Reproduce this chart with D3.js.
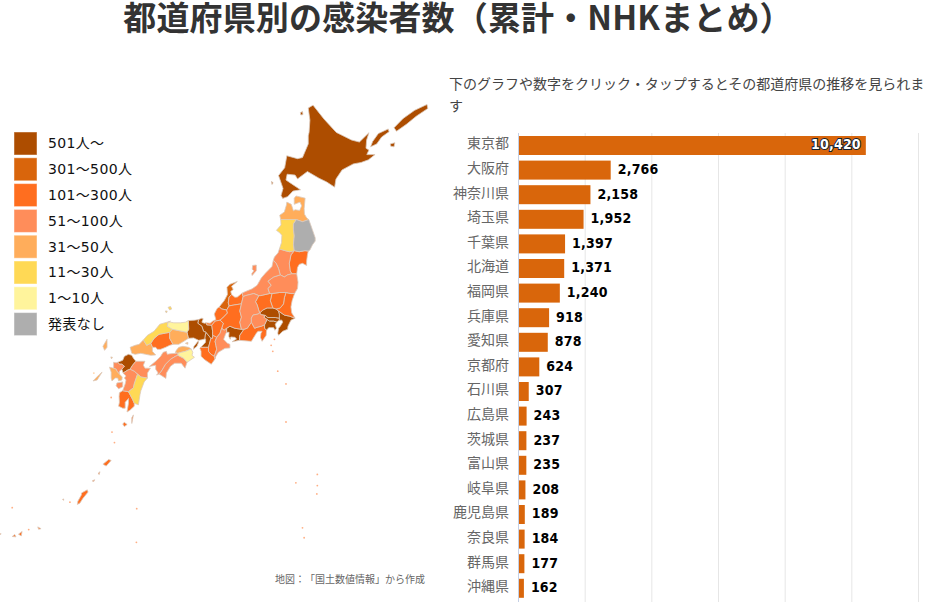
<!DOCTYPE html>
<meta charset="utf-8">
<head>
    <script src="https://cdnjs.cloudflare.com/ajax/libs/d3/7.8.5/d3.min.js"></script>
    <style>
        html, body { margin: 0; background: #fff; overflow: hidden; }
        text { font-family: "Noto Sans CJK JP", sans-serif; text-spacing-trim: space-all; }
    </style>
</head>
<body>
    <svg width=946 height=602></svg>
</body>
<script>
    let categories = ["東京都", "大阪府", "神奈川県", "埼玉県", "千葉県", "北海道", "福岡県", "兵庫県", "愛知県", "京都府",
        "石川県", "広島県", "茨城県", "富山県", "岐阜県", "鹿児島県", "奈良県", "群馬県", "沖縄県"];
    let values = [10420, 2766, 2158, 1952, 1397, 1371, 1240, 918, 878, 624, 307, 243, 237, 235, 208, 189, 184, 177, 162];
    let xTicks = [0, 2000, 4000, 6000, 8000, 10000, 12000];

    let legendLabels = ["501人～", "301～500人", "101～300人", "51～100人", "31～50人", "11～30人", "1～10人", "発表なし"];
    let legendColors = ["#ad4d00", "#d9650c", "#ff6e1f", "#ff8d5a", "#ffad5b", "#ffd955", "#fff49c", "#aeaeae"];

    // prefectures by legend class, same order as legendLabels
    let prefClasses = [
        ["北海道", "東京都", "神奈川県", "埼玉県", "千葉県", "愛知県", "大阪府", "京都府", "兵庫県", "福岡県"],
        ["石川県"],
        ["宮城県", "茨城県", "栃木県", "群馬県", "静岡県", "富山県", "福井県", "岐阜県", "滋賀県", "奈良県", "和歌山県", "広島県", "鹿児島県", "沖縄県"],
        ["山形県", "福島県", "新潟県", "長野県", "山梨県", "三重県", "愛媛県", "高知県", "佐賀県", "熊本県", "大分県"],
        ["青森県", "岡山県", "山口県", "香川県", "長崎県"],
        ["秋田県", "島根県", "宮崎県"],
        ["鳥取県", "徳島県"],
        ["岩手県"]
    ];

    // rough outlines, [lon, lat]
    let prefOutlines = {
        "北海道": [[[141.94,45.52],[142.6,44.93],[143.35,44.35],[144.27,44.02],[144.75,43.93],[145.33,44.34],[145.19,44.02],[145.15,43.66],[145.33,43.58],[145.2,43.38],[145.7,43.38],[145.3,43.15],[144.85,43.03],[144.38,42.97],[143.7,42.7],[143.33,42.29],[143.25,41.93],[142.77,42.16],[142.3,42.33],[141.6,42.63],[141.0,42.3],[140.85,42.47],[140.37,42.51],[140.3,42.25],[140.58,42.11],[141.18,41.81],[140.72,41.75],[140.4,41.5],[140.1,41.42],[140.0,41.55],[140.12,41.87],[139.85,42.45],[140.22,42.8],[140.35,43.33],[141.0,43.2],[141.3,43.25],[141.65,43.85],[141.65,44.2],[141.7,44.36],[141.75,44.88],[141.65,45.4]],
            [[145.43,43.72],[145.55,43.95],[145.9,44.3],[146.5,44.5],[146.55,44.38],[146.1,44.15],[145.8,43.85]],
            [[146.85,44.55],[147.4,44.95],[148.1,45.3],[148.85,45.55],[148.9,45.38],[148.2,45.05],[147.6,44.7],[147.0,44.4]],
            [[146.62,43.85],[146.9,43.9],[146.85,43.72],[146.65,43.75]],
            [[141.17,45.2],[141.3,45.25],[141.33,45.12],[141.2,45.1]],
            [[139.42,42.2],[139.52,42.12],[139.45,42.05]]],
        "青森県": [[[140.35,41.25],[140.62,41.15],[140.75,40.85],[140.85,40.9],[141.13,40.87],[141.25,41.08],[141.15,41.25],[140.8,41.15],[140.8,41.43],[140.91,41.53],[141.46,41.43],[141.4,40.95],[141.42,40.7],[141.55,40.53],[141.68,40.45],[141.3,40.35],[140.93,40.45],[140.5,40.45],[139.98,40.45],[139.92,40.65],[140.2,40.8],[140.33,41.13]]],
        "岩手県": [[[141.68,40.45],[141.8,40.2],[141.9,39.98],[142.07,39.6],[142.07,39.45],[141.9,39.27],[141.75,39.03],[141.65,38.98],[141.45,39.0],[141.1,38.95],[140.8,39.0],[140.75,39.3],[140.8,39.7],[140.75,40.0],[140.75,40.25],[140.93,40.45],[141.3,40.35]]],
        "秋田県": [[[139.98,40.45],[140.0,40.2],[139.72,39.95],[139.9,39.85],[140.05,39.72],[140.03,39.38],[139.9,39.08],[140.25,39.0],[140.5,38.95],[140.8,39.0],[140.75,39.3],[140.8,39.7],[140.75,40.0],[140.75,40.25],[140.93,40.45],[140.5,40.45]]],
        "山形県": [[[139.9,39.08],[139.82,38.9],[139.6,38.7],[139.53,38.55],[139.7,38.4],[139.85,38.15],[139.95,37.85],[140.2,37.75],[140.4,37.85],[140.65,37.9],[140.55,38.05],[140.5,38.4],[140.6,38.8],[140.8,39.0],[140.5,38.95],[140.25,39.0]]],
        "宮城県": [[[141.65,38.98],[141.6,38.8],[141.55,38.5],[141.55,38.3],[141.3,38.4],[141.1,38.35],[141.0,38.2],[140.95,37.9],[140.65,37.9],[140.55,38.05],[140.5,38.4],[140.6,38.8],[140.8,39.0],[141.1,38.95],[141.45,39.0]]],
        "福島県": [[[140.95,37.9],[141.03,37.5],[141.0,37.2],[140.82,36.95],[140.6,36.95],[140.3,37.0],[139.9,37.0],[139.45,36.95],[139.3,36.95],[139.2,37.2],[139.4,37.35],[139.2,37.55],[139.55,37.75],[139.95,37.85],[140.2,37.75],[140.4,37.85],[140.65,37.9]]],
        "新潟県": [[[139.53,38.55],[139.45,38.25],[139.05,37.93],[138.8,37.7],[138.55,37.35],[138.25,37.18],[137.85,37.05],[137.65,36.98],[137.7,36.8],[137.85,36.85],[138.35,36.95],[138.65,36.85],[138.75,36.85],[139.3,36.95],[139.2,37.2],[139.4,37.35],[139.2,37.55],[139.55,37.75],[139.95,37.85],[139.85,38.15],[139.7,38.4]],
            [[138.28,38.3],[138.5,38.32],[138.5,38.05],[138.25,37.82],[138.22,37.9],[138.35,38.05],[138.25,38.12]]],
        "茨城県": [[[140.82,36.95],[140.67,36.6],[140.6,36.3],[140.65,36.0],[140.85,35.75],[140.5,35.85],[140.2,35.9],[139.85,36.1],[139.7,36.2],[139.95,36.25],[140.15,36.45],[140.2,36.75],[140.3,37.0],[140.6,36.95]]],
        "栃木県": [[[140.3,37.0],[140.2,36.75],[140.15,36.45],[139.95,36.25],[139.7,36.2],[139.5,36.25],[139.35,36.6],[139.45,36.95],[139.9,37.0]]],
        "群馬県": [[[139.45,36.95],[139.3,36.95],[138.75,36.85],[138.65,36.85],[138.45,36.55],[138.55,36.4],[138.7,36.0],[138.9,36.15],[139.15,36.25],[139.5,36.25],[139.35,36.6]]],
        "埼玉県": [[[139.7,36.2],[139.5,36.25],[139.15,36.25],[138.9,36.15],[138.7,36.0],[138.8,35.92],[139.05,35.88],[139.2,35.78],[139.65,35.78],[139.9,35.75],[139.9,35.95],[139.85,36.1]]],
        "千葉県": [[[140.85,35.75],[140.5,35.85],[140.2,35.9],[139.85,36.1],[139.9,35.95],[139.9,35.65],[140.05,35.65],[140.1,35.55],[139.95,35.35],[139.85,35.25],[139.8,35.0],[139.85,34.9],[140.1,35.1],[140.4,35.2],[140.42,35.35],[140.6,35.65]]],
        "東京都": [[[139.05,35.88],[139.2,35.78],[139.65,35.78],[139.9,35.75],[139.9,35.65],[139.8,35.6],[139.75,35.55],[139.55,35.6],[139.3,35.6],[139.15,35.68],[138.95,35.8]]],
        "神奈川県": [[[139.75,35.55],[139.65,35.45],[139.72,35.25],[139.63,35.15],[139.55,35.28],[139.25,35.28],[139.12,35.15],[139.0,35.25],[139.0,35.42],[139.15,35.68],[139.3,35.6],[139.55,35.6]]],
        "山梨県": [[[138.8,35.92],[139.05,35.88],[138.95,35.8],[139.15,35.68],[139.0,35.42],[138.8,35.35],[138.55,35.3],[138.4,35.25],[138.2,35.55],[138.2,35.75],[138.3,35.9],[138.6,35.95],[138.7,36.0]]],
        "長野県": [[[137.85,36.85],[138.35,36.95],[138.65,36.85],[138.45,36.55],[138.55,36.4],[138.7,36.0],[138.6,35.95],[138.3,35.9],[138.2,35.75],[138.2,35.55],[137.95,35.25],[137.75,35.2],[137.6,35.2],[137.5,35.55],[137.6,35.8],[137.5,36.1],[137.6,36.45],[137.7,36.8]]],
        "富山県": [[[137.65,36.98],[137.35,36.78],[137.2,36.77],[137.0,36.9],[136.85,36.78],[136.8,36.5],[136.85,36.35],[137.2,36.4],[137.6,36.45],[137.7,36.8]]],
        "石川県": [[[137.0,36.9],[136.95,37.05],[137.1,37.15],[137.0,37.3],[137.35,37.53],[136.9,37.4],[136.72,37.25],[136.75,36.9],[136.55,36.6],[136.35,36.4],[136.25,36.3],[136.4,36.2],[136.7,36.15],[136.85,36.35],[136.8,36.5],[136.85,36.78]]],
        "福井県": [[[136.25,36.3],[136.12,36.22],[135.95,35.95],[136.05,35.68],[135.85,35.6],[135.7,35.5],[135.45,35.52],[135.5,35.42],[135.8,35.4],[136.0,35.6],[136.3,35.65],[136.45,35.75],[136.75,36.0],[136.7,36.15],[136.4,36.2]]],
        "岐阜県": [[[136.85,36.35],[137.2,36.4],[137.6,36.45],[137.5,36.1],[137.6,35.8],[137.5,35.55],[137.6,35.2],[137.2,35.25],[136.9,35.35],[136.7,35.25],[136.55,35.15],[136.4,35.25],[136.5,35.5],[136.3,35.65],[136.45,35.75],[136.75,36.0],[136.7,36.15]]],
        "愛知県": [[[136.7,35.25],[136.9,35.35],[137.2,35.25],[137.6,35.2],[137.75,35.2],[137.5,34.9],[137.48,34.65],[137.03,34.58],[137.3,34.72],[137.2,34.8],[136.95,34.82],[136.92,34.7],[136.83,34.85],[136.85,35.05],[136.7,35.05]]],
        "静岡県": [[[137.75,35.2],[137.95,35.25],[138.2,35.55],[138.4,35.25],[138.55,35.3],[138.8,35.35],[139.0,35.42],[139.0,35.25],[139.12,35.15],[139.1,34.9],[138.85,34.6],[138.75,34.8],[138.78,35.0],[138.85,35.1],[138.6,35.1],[138.5,35.0],[138.2,34.6],[137.48,34.65],[137.5,34.9]]],
        "三重県": [[[136.7,35.05],[136.63,34.95],[136.52,34.7],[136.75,34.5],[136.9,34.45],[136.9,34.27],[136.6,34.25],[136.2,34.05],[136.05,33.85],[136.0,33.72],[135.95,33.85],[136.1,34.2],[136.05,34.4],[136.0,34.6],[136.1,34.8],[136.3,35.0],[136.4,35.25],[136.55,35.15],[136.7,35.25]]],
        "滋賀県": [[[136.4,35.25],[136.5,35.5],[136.3,35.65],[136.0,35.6],[135.8,35.4],[135.85,35.1],[135.85,34.9],[136.1,34.8],[136.3,35.0]]],
        "京都府": [[[135.45,35.52],[135.35,35.5],[135.2,35.55],[135.28,35.72],[135.2,35.75],[135.0,35.68],[134.95,35.5],[135.2,35.35],[135.3,35.1],[135.45,35.05],[135.55,34.95],[135.65,34.85],[135.75,34.75],[135.85,34.75],[135.85,34.9],[135.85,35.1],[135.8,35.4],[135.5,35.42]]],
        "大阪府": [[[135.45,35.05],[135.55,34.95],[135.65,34.85],[135.75,34.75],[135.65,34.45],[135.6,34.3],[135.4,34.3],[135.13,34.3],[135.25,34.4],[135.42,34.55],[135.43,34.7],[135.38,34.72],[135.38,34.78],[135.4,34.9]]],
        "奈良県": [[[135.75,34.75],[135.85,34.75],[135.85,34.9],[136.1,34.8],[136.0,34.6],[136.05,34.4],[136.1,34.2],[135.95,33.85],[135.75,33.95],[135.6,34.1],[135.6,34.3],[135.65,34.45]]],
        "和歌山県": [[[135.13,34.3],[135.4,34.3],[135.6,34.3],[135.6,34.1],[135.75,33.95],[135.95,33.85],[136.0,33.72],[135.77,33.45],[135.37,33.68],[135.15,33.85],[135.15,34.1],[135.08,34.25]]],
        "兵庫県": [[[135.0,35.68],[134.75,35.65],[134.38,35.63],[134.4,35.2],[134.3,35.05],[134.38,34.75],[134.7,34.77],[135.0,34.65],[135.2,34.68],[135.38,34.72],[135.38,34.78],[135.4,34.9],[135.45,35.05],[135.3,35.1],[135.2,35.35],[134.95,35.5]],
            [[134.98,34.62],[135.0,34.55],[134.9,34.35],[134.68,34.2],[134.72,34.35]]],
        "鳥取県": [[[134.38,35.63],[134.2,35.55],[133.9,35.52],[133.5,35.52],[133.3,35.55],[133.15,35.55],[133.1,35.35],[133.4,35.2],[133.7,35.15],[134.3,35.05],[134.4,35.2]]],
        "岡山県": [[[134.3,35.05],[133.7,35.15],[133.4,35.2],[133.25,35.05],[133.25,34.75],[133.45,34.45],[133.8,34.45],[134.0,34.55],[134.2,34.65],[134.38,34.75]]],
        "広島県": [[[133.45,34.45],[133.25,34.75],[133.25,35.05],[132.6,34.95],[132.3,34.75],[132.1,34.5],[132.2,34.3],[132.4,34.3],[132.5,34.2],[132.7,34.2],[133.0,34.3],[133.25,34.4]]],
        "島根県": [[[133.15,35.55],[133.3,35.6],[132.65,35.45],[132.5,35.3],[132.3,35.1],[131.9,34.9],[131.65,34.67],[131.85,34.4],[132.1,34.5],[132.3,34.75],[132.6,34.95],[133.25,35.05],[133.4,35.2],[133.1,35.35]],
            [[133.15,36.28],[133.3,36.32],[133.37,36.2],[133.25,36.15]],
            [[132.98,36.1],[133.1,36.1],[133.05,36.0]]],
        "山口県": [[[131.65,34.67],[131.4,34.45],[131.15,34.4],[130.85,34.3],[130.95,34.0],[131.15,33.95],[131.5,34.0],[131.8,33.95],[132.1,33.9],[132.4,33.92],[132.2,34.1],[132.2,34.3],[132.1,34.5],[131.85,34.4]]],
        "香川県": [[[133.6,34.05],[133.65,34.15],[133.8,34.3],[134.05,34.35],[134.4,34.3],[134.55,34.22],[134.2,34.1],[133.95,34.05],[133.75,34.0]],
            [[134.2,34.5],[134.35,34.55],[134.35,34.45]]],
        "徳島県": [[[134.55,34.22],[134.65,34.05],[134.6,33.9],[134.75,33.8],[134.4,33.6],[134.3,33.55],[134.1,33.75],[133.75,33.9],[133.75,34.0],[133.95,34.05],[134.2,34.1]]],
        "愛媛県": [[[133.6,34.05],[133.65,34.0],[133.3,33.98],[133.1,33.95],[133.05,34.1],[132.85,34.05],[132.7,33.85],[132.4,33.6],[132.02,33.34],[132.4,33.4],[132.4,33.2],[132.55,33.0],[132.45,32.9],[132.6,32.95],[132.75,33.1],[133.0,33.45],[133.3,33.7],[133.6,33.85],[133.75,33.9],[133.75,34.0]]],
        "高知県": [[[133.75,33.9],[134.1,33.75],[134.3,33.55],[134.18,33.25],[133.95,33.5],[133.55,33.5],[133.3,33.35],[133.05,33.0],[133.02,32.73],[132.7,32.9],[132.6,32.95],[132.75,33.1],[133.0,33.45],[133.3,33.7],[133.6,33.85]]],
        "福岡県": [[[130.95,33.9],[131.05,33.75],[131.2,33.6],[131.0,33.4],[130.85,33.2],[130.7,33.15],[130.42,33.0],[130.35,33.2],[130.45,33.3],[130.5,33.35],[130.35,33.45],[130.2,33.45],[130.1,33.55],[130.4,33.65],[130.5,33.85],[130.75,33.95]]],
        "佐賀県": [[[130.1,33.55],[130.0,33.52],[129.85,33.55],[129.85,33.25],[130.0,33.2],[130.05,33.1],[130.2,32.95],[130.2,33.1],[130.35,33.2],[130.45,33.3],[130.5,33.35],[130.35,33.45],[130.2,33.45]]],
        "長崎県": [[[129.85,33.25],[129.6,33.3],[129.7,33.05],[129.7,32.75],[129.75,32.6],[129.95,32.75],[130.1,32.75],[130.15,32.6],[130.35,32.65],[130.37,32.8],[130.2,32.95],[130.05,33.1],[130.0,33.2]],
            [[129.45,34.7],[129.2,34.35],[129.3,34.15],[129.45,34.3]],
            [[129.68,33.82],[129.78,33.8],[129.72,33.72]],
            [[128.6,32.6],[128.85,32.65],[129.15,33.05],[128.95,32.9]]],
        "大分県": [[[131.2,33.6],[131.75,33.6],[131.65,33.4],[131.75,33.25],[132.08,33.25],[131.9,33.0],[131.9,32.75],[131.5,32.8],[131.3,32.95],[131.1,33.1],[130.85,33.2],[131.0,33.4]]],
        "熊本県": [[[130.42,33.0],[130.7,33.15],[130.85,33.2],[131.1,33.1],[131.3,32.95],[131.2,32.7],[131.1,32.45],[131.05,32.25],[130.75,32.05],[130.4,32.1],[130.55,32.45],[130.6,32.65],[130.5,32.75],[130.6,32.85]],
            [[130.05,32.5],[130.4,32.55],[130.4,32.3],[130.15,32.2],[130.0,32.35]]],
        "宮崎県": [[[131.9,32.75],[131.7,32.55],[131.5,32.1],[131.45,31.9],[131.35,31.37],[131.1,31.45],[131.0,31.65],[130.75,32.05],[131.05,32.25],[131.1,32.45],[131.2,32.7],[131.3,32.95],[131.5,32.8]]],
        "鹿児島県": [[[130.4,32.1],[130.2,32.0],[130.18,31.8],[130.2,31.5],[130.15,31.3],[130.4,31.2],[130.55,31.2],[130.55,31.5],[130.75,31.7],[130.75,31.45],[130.66,31.0],[130.85,31.1],[131.1,31.3],[131.1,31.45],[131.0,31.65],[130.75,32.05]],
            [[130.95,30.4],[131.05,30.85],[130.95,30.7]],
            [[130.4,30.38],[130.5,30.46],[130.67,30.35],[130.5,30.24]],
            [[129.2,28.25],[129.55,28.5],[129.7,28.45],[129.4,28.15]],
            [[128.9,27.75],[129.02,27.85],[128.98,27.7]],
            [[128.55,27.35],[128.7,27.42],[128.65,27.32]]],
        "沖縄県": [[[127.65,26.08],[127.68,26.25],[127.9,26.6],[127.9,26.7],[128.25,26.87],[128.3,26.75],[127.98,26.4],[127.8,26.15]],
            [[126.75,26.35],[126.82,26.38],[126.82,26.3]],
            [[125.25,24.85],[125.45,24.75],[125.3,24.72]],
            [[124.08,24.45],[124.3,24.6],[124.25,24.35]],
            [[123.7,24.32],[123.85,24.43],[123.93,24.3]],
            [[122.95,24.47],[123.03,24.47],[123.0,24.43]]]
    };

    // islets too small for an outline: class, lon, lat
    let islets = [[2,139.6,34.7],[2,139.4,34.4],[2,139.5,34.1],[2,139.8,33.1],[2,140.3,30.48],[2,142.2,27.7],[2,142.2,27.1],[2,142.17,26.65],[2,140.9,27.25],[2,141.3,24.8],[2,141.4,24.25],
        [2,131.25,25.85],[2,131.23,24.0],[2,129.7,31.75],[2,129.75,29.95],[2,129.9,29.4],[2,123.7,25.9],[4,128.65,33.0],[2,127.2,26.2],[2,124.7,24.7],[2,140.3,32.45]];

    let barHeight = 19;
    let legendStep = 25.8;

    let svg = d3.select('svg');

    //title
    svg.append("text")
        .attr("x", 458)
        .attr("y", 30)
        .attr("text-anchor", "middle")
        .attr("font-size", 33)
        .attr("letter-spacing", 0.15)
        .attr("font-weight", "bold")
        .attr("fill", "#333")
        .text("都道府県別の感染者数（累計・NHKまとめ）");

    //note above the bars
    svg.append("text").attr("x", 449).attr("y", 89).attr("font-size", 14).attr("fill", "#444")
        .text("下のグラフや数字をクリック・タップするとその都道府県の推移を見られま");
    svg.append("text").attr("x", 449).attr("y", 111).attr("font-size", 14).attr("fill", "#444")
        .text("す");

    //map
    let projection = d3.geoMercator()
        .center([130.66, 31])
        .scale(945)
        .translate([127, 412]);

    let ring = d3.line()
        .x(function (d) { return projection(d)[0] })
        .y(function (d) { return projection(d)[1] });

    let classColor = d3.scaleOrdinal().domain(d3.range(8)).range(legendColors);

    let prefRows = prefClasses.flatMap(function (names, index) {
        return names.map(function (name) { return { name: name, level: index } });
    });

    svg.append("g").selectAll("path")
        .data(prefRows)
        .enter()
        .append("path")
        .attr("d", function (d) {
            return prefOutlines[d.name].map(function (r) { return ring(r) + "Z" }).join("");
        })
        .attr("fill", function (d) { return classColor(d.level) })
        .attr("stroke", "#dccabd")
        .attr("stroke-width", 0.8)
        .attr("stroke-linejoin", "round");

    svg.append("g").selectAll("circle")
        .data(islets)
        .enter()
        .append("circle")
        .attr("cx", function (d) { return projection([d[1], d[2]])[0] })
        .attr("cy", function (d) { return projection([d[1], d[2]])[1] })
        .attr("r", 0.9)
        .attr("fill", function (d) { return classColor(d[0]) })
        .attr("fill-opacity", 0.55);

    svg.append("text").attr("x", 275).attr("y", 583).attr("font-size", 10).attr("fill", "#666")
        .text("地図：「国土数値情報」から作成");

    //legend
    let legend = svg.append("g").selectAll("g")
        .data(legendLabels)
        .enter()
        .append("g")
        .attr("transform", function (d, index) {
            return `translate(14, ${132 + index * legendStep})`
        });

    legend.append("rect")
        .attr("width", 23)
        .attr("height", 23)
        .attr("fill", function (d, index) { return legendColors[index] })
        .attr("stroke", "#fff")
        .attr("stroke-opacity", 0.45)
        .attr("stroke-width", 1);

    legend.append("text")
        .attr("x", 34)
        .attr("y", 11.5)
        .attr("dy", ".35em")
        .attr("font-size", 14)
        .attr("letter-spacing", 0.35)
        .attr("fill", "#111")
        .attr("style", 'font-family: "DejaVu Sans", "Noto Sans CJK JP"')
        .text(function (d) { return d });

    //bars
    let x = d3.scaleLinear().domain([0, 12000]).range([518.5, 918.5]);
    let y = d3.scaleBand().domain(categories).range([133.2, 600.6]);

    svg.append("g").selectAll("line")
        .data(xTicks.slice(1))
        .enter()
        .append("line")
        .attr("x1", function (d) { return x(d) })
        .attr("x2", function (d) { return x(d) })
        .attr("y1", 133)
        .attr("y2", 602)
        .attr("stroke", "#e6e6e6");

    let row = svg.append("g").selectAll("g")
        .data(categories)
        .enter()
        .append("g")
        .attr("transform", function (d) { return `translate(0, ${y(d)})` });

    row.append("rect")
        .attr("x", x(0))
        .attr("y", (y.step() - barHeight) / 2)
        .attr("height", barHeight)
        .attr("width", function (d, index) { return x(values[index]) - x(0) })
        .attr("fill", "#d9660b");

    row.append("text")
        .attr("x", 509)
        .attr("y", y.step() / 2 - 2)
        .attr("dy", ".35em")
        .attr("text-anchor", "end")
        .attr("font-size", 14)
        .attr("fill", "#666")
        .text(function (d) { return d });

    let labelFont = 'font-family: "DejaVu Sans Condensed", "DejaVu Sans"; font-stretch: condensed; paint-order: stroke; stroke-width: 2px; letter-spacing: 0.2px; ';

    row.append("text")
        .attr("x", function (d, index) {
            return values[index] > 8000 ? x(values[index]) - 5 : x(values[index]) + 7;
        })
        .attr("y", y.step() / 2 - 1)
        .attr("dy", ".35em")
        .attr("text-anchor", function (d, index) { return values[index] > 8000 ? "end" : "start" })
        .attr("font-size", 14)
        .attr("font-weight", "bold")
        .attr("style", function (d, index) {
            return labelFont + (values[index] > 8000 ? "stroke: #123; fill: #fff" : "stroke: #fff; fill: #000");
        })
        .text(function (d, index) { return d3.format(",")(values[index]) });

    svg.append("line")
        .attr("x1", x(0))
        .attr("x2", x(0))
        .attr("y1", 133)
        .attr("y2", 602)
        .attr("stroke", "#c5d0e5");
</script>
